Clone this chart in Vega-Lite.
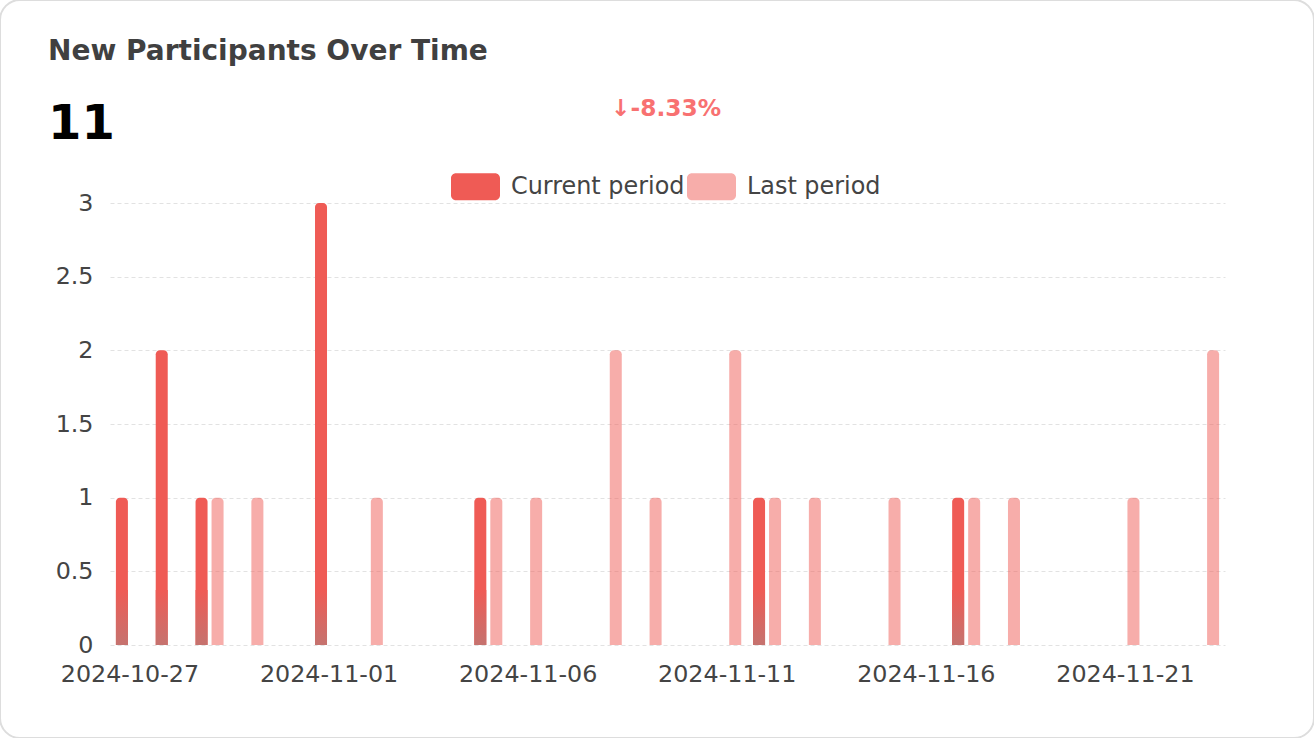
{
  "$schema": "https://vega.github.io/schema/vega-lite/v6.json",
  "width": 1314,
  "height": 738,
  "autosize": "none",
  "padding": 0,
  "background": "#ffffff",
  "title": {
    "text": "New Participants Over Time",
    "subtitle": "11",
    "anchor": "start",
    "frame": "group",
    "offset": 0,
    "dx": 48,
    "dy": 149,
    "font": "DejaVu Sans",
    "fontSize": 28,
    "fontWeight": "bold",
    "color": "#404040",
    "subtitleFont": "DejaVu Sans",
    "subtitleFontSize": 48,
    "subtitleFontWeight": "bold",
    "subtitleColor": "#000000",
    "subtitlePadding": 35
  },
  "data": {
    "values": [
      {"date": "2024-10-27", "period": "Current period", "count": 1},
      {"date": "2024-10-28", "period": "Current period", "count": 2},
      {"date": "2024-10-29", "period": "Current period", "count": 1},
      {"date": "2024-11-01", "period": "Current period", "count": 3},
      {"date": "2024-11-05", "period": "Current period", "count": 1},
      {"date": "2024-11-12", "period": "Current period", "count": 1},
      {"date": "2024-11-17", "period": "Current period", "count": 1},
      {"date": "2024-10-29", "period": "Last period", "count": 1},
      {"date": "2024-10-30", "period": "Last period", "count": 1},
      {"date": "2024-11-02", "period": "Last period", "count": 1},
      {"date": "2024-11-05", "period": "Last period", "count": 1},
      {"date": "2024-11-06", "period": "Last period", "count": 1},
      {"date": "2024-11-08", "period": "Last period", "count": 2},
      {"date": "2024-11-09", "period": "Last period", "count": 1},
      {"date": "2024-11-11", "period": "Last period", "count": 2},
      {"date": "2024-11-12", "period": "Last period", "count": 1},
      {"date": "2024-11-13", "period": "Last period", "count": 1},
      {"date": "2024-11-15", "period": "Last period", "count": 1},
      {"date": "2024-11-17", "period": "Last period", "count": 1},
      {"date": "2024-11-18", "period": "Last period", "count": 1},
      {"date": "2024-11-21", "period": "Last period", "count": 1},
      {"date": "2024-11-23", "period": "Last period", "count": 2}
    ]
  },
  "layer": [
    {
      "mark": {"type": "bar", "cornerRadiusTopLeft": 4, "cornerRadiusTopRight": 4},
      "encoding": {
        "x": {
          "field": "date",
          "type": "ordinal",
          "scale": {
            "domain": ["2024-10-27","2024-10-28","2024-10-29","2024-10-30","2024-10-31","2024-11-01","2024-11-02","2024-11-03","2024-11-04","2024-11-05","2024-11-06","2024-11-07","2024-11-08","2024-11-09","2024-11-10","2024-11-11","2024-11-12","2024-11-13","2024-11-14","2024-11-15","2024-11-16","2024-11-17","2024-11-18","2024-11-19","2024-11-20","2024-11-21","2024-11-22","2024-11-23"],
            "range": [110, 1225],
            "paddingInner": 0,
            "paddingOuter": 0
          },
          "axis": {
            "title": null,
            "orient": "bottom",
            "offset": -93,
            "values": ["2024-10-27","2024-11-01","2024-11-06","2024-11-11","2024-11-16","2024-11-21"],
            "labelAngle": 0,
            "labelFont": "DejaVu Sans",
            "labelFontSize": 23.8,
            "labelColor": "#444444",
            "labelPadding": 17,
            "ticks": false,
            "tickSize": 0,
            "domain": false,
            "grid": false
          }
        },
        "xOffset": {
          "field": "period",
          "type": "nominal",
          "scale": {"domain": ["Current period", "Last period"], "paddingInner": 0.25, "paddingOuter": 0.369}
        },
        "y": {
          "field": "count",
          "type": "quantitative",
          "stack": null,
          "scale": {"domain": [0, 3], "range": [645, 203], "nice": false},
          "axis": {
            "title": null,
            "orient": "left",
            "offset": -110,
            "values": [0, 0.5, 1, 1.5, 2, 2.5, 3],
            "format": "~g",
            "labelFont": "DejaVu Sans",
            "labelFontSize": 23.8,
            "labelColor": "#444444",
            "labelPadding": 17,
            "ticks": false,
            "tickSize": 0,
            "domain": false,
            "grid": true,
            "gridColor": "#e2e2e2",
            "gridDash": [4, 3],
            "gridWidth": 1
          }
        },
        "color": {
          "field": "period",
          "type": "nominal",
          "scale": {"domain": ["Current period", "Last period"], "range": ["#ef5b55", "rgba(239,91,85,0.5)"]},
          "legend": {
            "title": "↓-8.33%",
            "orient": "none",
            "direction": "horizontal",
            "legendX": 451,
            "legendY": 98,
            "padding": 0,
            "titleAnchor": "middle",
            "titleFont": "DejaVu Sans",
            "titleFontSize": 23.3,
            "titleFontWeight": "bold",
            "titleColor": "#f87171",
            "titlePadding": 41,
            "titleLimit": 0,
            "symbolType": "M-0.796,-0.551 L0.796,-0.551 A0.204,0.204 0 0 1 1,-0.347 L1,0.347 A0.204,0.204 0 0 1 0.796,0.551 L-0.796,0.551 A0.204,0.204 0 0 1 -1,0.347 L-1,-0.347 A0.204,0.204 0 0 1 -0.796,-0.551 Z",
            "symbolSize": 2401,
            "symbolStrokeWidth": 0,
            "labelFont": "DejaVu Sans",
            "labelFontSize": 23.9,
            "labelColor": "#444444",
            "labelOffset": 11,
            "labelLimit": 0,
            "columnPadding": 2
          }
        }
      }
    },
    {
      "transform": [{"filter": "datum.period === 'Current period'"}],
      "mark": {
        "type": "bar",
        "fill": {
          "gradient": "linear",
          "x1": 0, "y1": 0, "x2": 0, "y2": 1,
          "stops": [
            {"offset": 0, "color": "#ef5b55"},
            {"offset": 1, "color": "#c5736f"}
          ]
        }
      },
      "encoding": {
        "x": {"field": "date", "type": "ordinal"},
        "xOffset": {"field": "period", "type": "nominal"},
        "y": {
          "field": "count",
          "type": "quantitative",
          "stack": null,
          "scale": {"domain": [0, 0.375], "range": [645, 590], "clamp": true, "nice": false},
          "axis": null
        }
      }
    }
  ],
  "resolve": {"scale": {"y": "independent"}},
  "config": {
    "view": {"stroke": "#dddddd", "strokeWidth": 2, "cornerRadius": 20}
  }
}
